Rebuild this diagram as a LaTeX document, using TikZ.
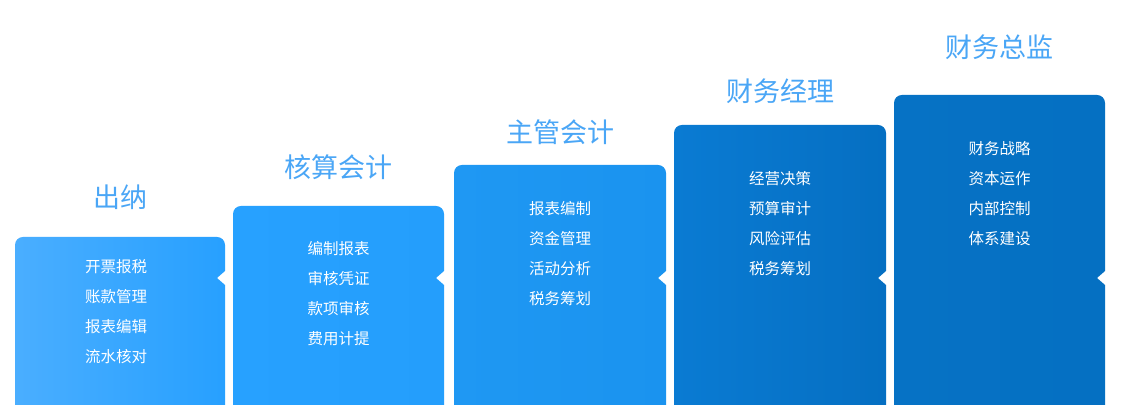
\documentclass[tikz,border=0pt]{standalone}
\usepackage{fontspec}
\setmainfont{Noto Sans CJK SC}
\newfontfamily\cjk{Noto Sans CJK SC}
\definecolor{titleblue}{HTML}{4AA6F6}
\definecolor{bAl}{HTML}{4AAEFF}\definecolor{bAr}{HTML}{27A0FF}
\definecolor{bBl}{HTML}{27A1FF}\definecolor{bBr}{HTML}{249EFC}
\definecolor{bCl}{HTML}{1F98F3}\definecolor{bCr}{HTML}{1A93EF}
\definecolor{bDl}{HTML}{0A7BD3}\definecolor{bDr}{HTML}{056FC2}
\definecolor{bEl}{HTML}{0672C5}\definecolor{bEr}{HTML}{0570C2}
\newcommand\stagepath[3]{% L R T
  (#1,14) -- (#1,#3-8) arc[start angle=180,end angle=90,radius=8]
  -- (#2-8,#3) arc[start angle=90,end angle=0,radius=8]
  -- (#2,148) -- (#2-8,141) -- (#2,134) -- (#2,14) -- cycle}
\begin{document}
\begin{tikzpicture}[x=1pt,y=1pt,
  titletext/.style={text=titleblue,font=\cjk\fontsize{27}{32}\selectfont,inner sep=0pt},
  itemtext/.style={text=white,font=\cjk\fontsize{15.5}{18}\selectfont,inner sep=0pt}]
\useasboundingbox[fill=white] (0,0) rectangle (1128,419);
% boxes
\shade[left color=bAl,right color=bAr] \stagepath{15}{225}{182};
\shade[left color=bBl,right color=bBr] \stagepath{233}{444}{213};
\shade[left color=bCl,right color=bCr] \stagepath{454}{666}{254};
\shade[left color=bDl,right color=bDr] \stagepath{674}{886}{294};
\shade[left color=bEl,right color=bEr] \stagepath{894}{1105}{324};
% titles
\node[titletext] (t1) at (120,222) {出纳};
\node[titletext] (t2) at (338.5,252) {核算会计};
\node[titletext] (t3) at (560,287) {主管会计};
\node[titletext] (t4) at (780,328) {财务经理};
\node[titletext] (t5) at (999.5,372) {财务总监};
% items box 1
\node[itemtext] (a1) at (116,152.5) {开票报税};
\node[itemtext] (a2) at (116,122.5) {账款管理};
\node[itemtext] (a3) at (116,92.5) {报表编辑};
\node[itemtext] (a4) at (116,62.5) {流水核对};
% items box 2
\node[itemtext] (b1) at (338.5,170.5) {编制报表};
\node[itemtext] (b2) at (338.5,140.5) {审核凭证};
\node[itemtext] (b3) at (338.5,110.5) {款项审核};
\node[itemtext] (b4) at (338.5,80.5) {费用计提};
% items box 3
\node[itemtext] (c1) at (560,210.5) {报表编制};
\node[itemtext] (c2) at (560,180.5) {资金管理};
\node[itemtext] (c3) at (560,150.5) {活动分析};
\node[itemtext] (c4) at (560,120.5) {税务筹划};
% items box 4
\node[itemtext] (d1) at (780,240.5) {经营决策};
\node[itemtext] (d2) at (780,210.5) {预算审计};
\node[itemtext] (d3) at (780,180.5) {风险评估};
\node[itemtext] (d4) at (780,150.5) {税务筹划};
% items box 5
\node[itemtext] (e1) at (999.5,270.5) {财务战略};
\node[itemtext] (e2) at (999.5,240.5) {资本运作};
\node[itemtext] (e3) at (999.5,210.5) {内部控制};
\node[itemtext] (e4) at (999.5,180.5) {体系建设};
\end{tikzpicture}
\end{document}
